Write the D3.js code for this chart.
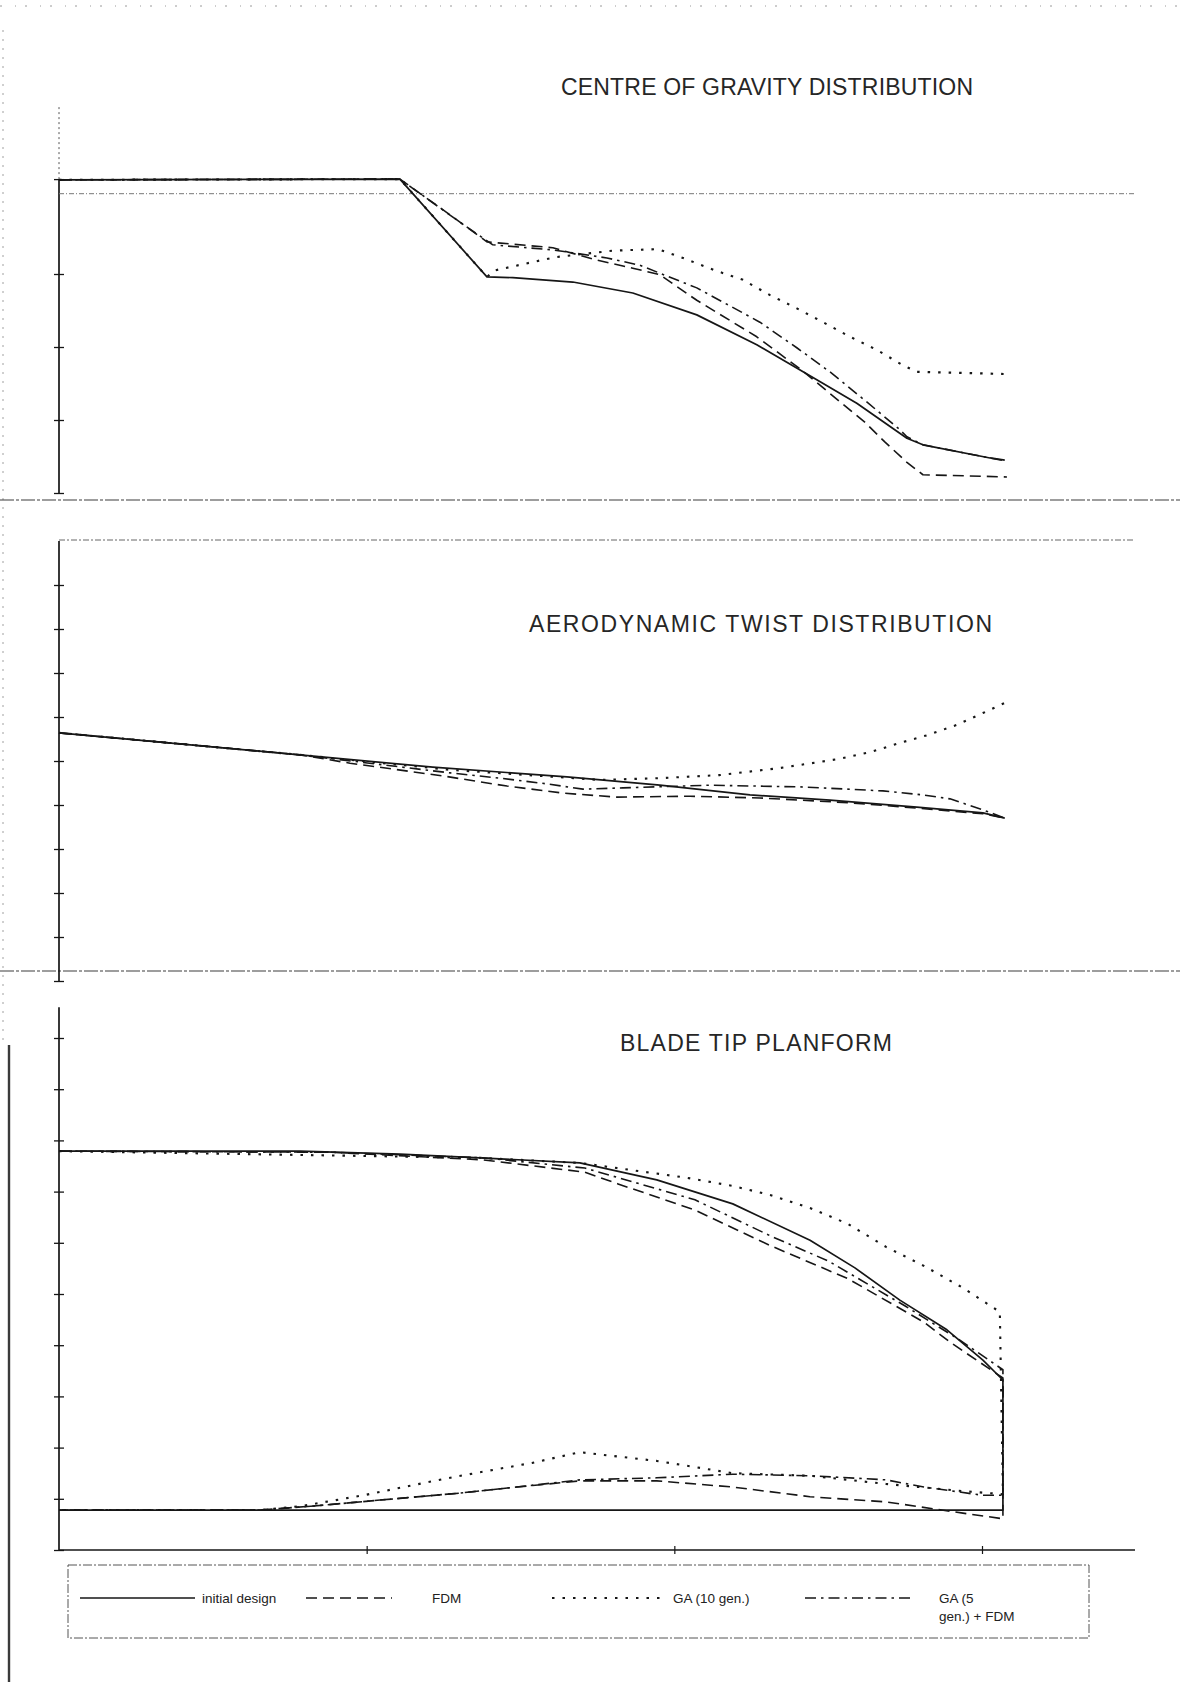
<!DOCTYPE html>
<html>
<head>
<meta charset="utf-8">
<script src="https://cdn.jsdelivr.net/npm/d3@7"></script>
<style>
  body { margin: 0; background: #fff; }
  text { font-family: "Liberation Sans", Arial, sans-serif; }
</style>
</head>
<body>
<script>
// ---- tick values ----
const stationTicks = [1, 2, 3];
const cgTicks = [0, 1, 2, 3, 4.3];
const twistTicks = [0, 1, 2, 3, 4, 5, 6, 7, 8, 9];
const planTicks = [0, 1, 2, 3, 4, 5, 6, 7, 8, 9, 10];

// ---- legend / titles ----
const seriesNames = ["initial design", "FDM", "GA (10 gen.)", "GA (5 gen.) + FDM"];
const panelTitles = ["CENTRE OF GRAVITY DISTRIBUTION", "AERODYNAMIC TWIST DISTRIBUTION", "BLADE TIP PLANFORM"];

// ---- centre of gravity distribution [station, value] ----
const cgInitial = [[0,4.29],[1.108,4.30],[1.391,2.96],[1.475,2.95],[1.670,2.89],[1.865,2.74],[2.073,2.44],[2.268,2.03],[2.463,1.55],[2.593,1.23],[2.756,0.75],[2.808,0.66],[3.026,0.48],[3.074,0.45]];
const cgFDM = [[0,4.29],[1.108,4.30],[1.271,3.81],[1.391,3.44],[1.605,3.36],[1.748,3.19],[1.865,3.08],[1.953,2.99],[2.073,2.64],[2.268,2.14],[2.415,1.68],[2.619,0.97],[2.684,0.70],[2.756,0.42],[2.808,0.25],[3.081,0.22]];
const cgGA10 = [[0,4.29],[1.108,4.30],[1.391,2.96],[1.417,3.05],[1.514,3.14],[1.612,3.23],[1.800,3.32],[1.947,3.34],[2.034,3.21],[2.132,3.05],[2.223,2.92],[2.311,2.71],[2.398,2.53],[2.483,2.34],[2.571,2.14],[2.658,1.96],[2.743,1.75],[2.788,1.66],[3.081,1.63]];
const cgGA5FDM = [[0,4.29],[1.108,4.30],[1.293,3.74],[1.410,3.40],[1.605,3.33],[1.781,3.22],[1.888,3.12],[2.073,2.81],[2.278,2.34],[2.398,1.99],[2.512,1.64],[2.619,1.27],[2.727,0.89],[2.756,0.77],[2.808,0.66],[3.026,0.48],[3.074,0.44]];

// ---- aerodynamic twist distribution ----
const twInitial = [[0,5.64],[0.783,5.14],[1.215,4.86],[1.651,4.64],[1.953,4.45],[2.246,4.23],[2.506,4.11],[2.788,3.95],[3.003,3.82],[3.074,3.70]];
const twFDM = [[0,5.64],[0.783,5.14],[0.946,4.95],[1.248,4.66],[1.456,4.43],[1.638,4.27],[1.813,4.18],[2.051,4.20],[2.278,4.16],[2.571,4.05],[2.788,3.93],[3.003,3.80],[3.074,3.70]];
const twGA10 = [[0,5.64],[0.783,5.14],[1.271,4.80],[1.758,4.57],[1.953,4.61],[2.148,4.68],[2.343,4.84],[2.538,5.05],[2.636,5.20],[2.733,5.41],[2.824,5.59],[2.918,5.82],[3.003,6.09],[3.074,6.32]];
const twGA5FDM = [[0,5.64],[0.783,5.14],[1.271,4.73],[1.433,4.61],[1.586,4.48],[1.703,4.36],[1.833,4.39],[2.116,4.45],[2.418,4.41],[2.678,4.32],[2.808,4.23],[2.896,4.14],[3.003,3.89],[3.074,3.70]];

// ---- blade tip planform: leading edge (upper) and trailing edge (lower) ----
const plInitialUpper = [[0,7.79],[0.783,7.79],[1.108,7.73],[1.368,7.66],[1.693,7.56],[1.943,7.23],[2.190,6.76],[2.441,6.05],[2.587,5.51],[2.733,4.88],[2.886,4.30],[3.003,3.71],[3.068,3.32]];
const plInitialLower = [[0,0.78],[3.068,0.78]];
const plFDMUpper = [[0,7.79],[0.881,7.77],[1.378,7.62],[1.709,7.38],[1.817,7.15],[2.067,6.64],[2.314,5.94],[2.564,5.30],[2.811,4.45],[2.896,4.06],[3.068,3.36]];
const plFDMLower = [[0,0.78],[0.653,0.78],[0.829,0.86],[1.053,0.98],[1.300,1.11],[1.488,1.23],[1.693,1.35],[1.943,1.35],[2.190,1.23],[2.441,1.04],[2.688,0.94],[2.938,0.72],[3.068,0.61]];
const plGA10Upper = [[0,7.79],[1.368,7.66],[1.693,7.56],[2.041,7.27],[2.190,7.11],[2.314,6.93],[2.441,6.68],[2.564,6.37],[2.688,5.92],[2.811,5.55],[2.938,5.12],[3.058,4.65]];
const plGA10Lower = [[0,0.78],[0.653,0.78],[0.790,0.86],[0.991,1.07],[1.137,1.25],[1.287,1.43],[1.388,1.54],[1.537,1.70],[1.693,1.91],[1.943,1.74],[2.190,1.50],[2.441,1.45],[2.688,1.29],[2.938,1.15],[3.068,1.09]];
const plGA5FDMUpper = [[0,7.79],[0.881,7.77],[1.378,7.66],[1.709,7.46],[2.067,6.84],[2.314,6.13],[2.502,5.64],[2.749,4.77],[2.928,4.10],[3.068,3.52]];
const plGA5FDMLower = [[0,0.78],[0.653,0.78],[0.829,0.86],[1.053,0.98],[1.300,1.11],[1.488,1.23],[1.693,1.37],[1.943,1.41],[2.190,1.48],[2.441,1.45],[2.688,1.37],[2.811,1.23],[3.000,1.07],[3.068,1.07]];

// ---- drawing ----
const W = 1180, H = 1682;
const INK = "#161616";
const styles = [
  { dash: null,            width: 1.7 },  // initial design
  { dash: "11,6",          width: 1.6 },  // FDM
  { dash: "2.5,8",         width: 2.1 },  // GA (10 gen.)
  { dash: "11,5,2.5,5",    width: 1.6 }   // GA (5 gen.) + FDM
];

const svg = d3.select("body").append("svg")
  .attr("width", W).attr("height", H)
  .attr("viewBox", `0 0 ${W} ${H}`);

const x = d3.scaleLinear().domain([0, 3]).range([59, 982]);
const y1 = d3.scaleLinear().domain([0, 4]).range([493, 201]);
const y2 = d3.scaleLinear().domain([0, 9]).range([981, 585]);
const y3 = d3.scaleLinear().domain([0, 10]).range([1550, 1038]);

// page frame marks
function rule(x1, yA, x2, yB, stroke, w, dash) {
  svg.append("line").attr("x1", x1).attr("y1", yA).attr("x2", x2).attr("y2", yB)
    .attr("stroke", stroke).attr("stroke-width", w)
    .attr("stroke-dasharray", dash || null);
}
rule(0, 6, 1180, 6, "#9a9a9a", 1, "2,13,1,9");
rule(3, 30, 3, 1040, "#a0a0a0", 1, "2,7");
rule(9, 1045, 9, H, "#3a3a3a", 2.4);
rule(0, 500, 1180, 500, "#3c3c3c", 1.2, "14,2,3,2");
rule(0, 971, 1180, 971, "#3c3c3c", 1.2, "14,2,3,2");

// vertical axis with cross ticks
function vAxis(yScale, ticks, top, solidTop) {
  const g = svg.append("g").attr("transform", `translate(${x(0)},0)`);
  g.call(d3.axisLeft(yScale).tickValues(ticks).tickSize(0).tickFormat(""));
  g.select(".domain").remove();
  g.selectAll(".tick line").attr("x1", -5).attr("x2", 5)
    .attr("stroke", INK).attr("stroke-width", 1.3);
  g.append("line").attr("x1", 0).attr("x2", 0)
    .attr("y1", yScale(0)).attr("y2", yScale(solidTop))
    .attr("stroke", INK).attr("stroke-width", 1.7);
  if (top > solidTop) {
    g.append("line").attr("x1", 0).attr("x2", 0)
      .attr("y1", yScale(solidTop)).attr("y2", yScale(top))
      .attr("stroke", "#555").attr("stroke-width", 1).attr("stroke-dasharray", "2,3");
  }
}

function title(txt, x0, x1, baseline) {
  svg.append("text").attr("x", x0).attr("y", baseline)
    .attr("font-size", 23).attr("fill", "#262626")
    .attr("textLength", x1 - x0).attr("lengthAdjust", "spacing")
    .text(txt);
}

function series(yScale, data, s) {
  const line = d3.line().x(d => x(d[0])).y(d => yScale(d[1]));
  svg.append("path").datum(data).attr("d", line)
    .attr("fill", "none").attr("stroke", INK)
    .attr("stroke-width", styles[s].width)
    .attr("stroke-dasharray", styles[s].dash)
    .attr("stroke-linejoin", "round");
}

// Panel 1: centre of gravity
title(panelTitles[0], 561, 973, 95);
vAxis(y1, cgTicks, 5.29, 4.3);
rule(x(0), y1(4.1), 1135, y1(4.1), "#777", 1, "5,2,1,2");
[cgGA10, cgGA5FDM, cgFDM, cgInitial].forEach((d, i) => series(y1, d, [2, 3, 1, 0][i]));

// Panel 2: aerodynamic twist
rule(x(0), 540, 1135, 540, "#666", 1, "6,2,2,2");
title(panelTitles[1], 529, 992, 632);
vAxis(y2, twistTicks, 10.0, 10.0);
[twGA10, twGA5FDM, twFDM, twInitial].forEach((d, i) => series(y2, d, [2, 3, 1, 0][i]));

// Panel 3: blade tip planform (outline = leading edge, tip, trailing edge)
title(panelTitles[2], 620, 892, 1051);
vAxis(y3, planTicks, 10.6, 10.6);
const outline = (u, l) => u.concat(l.slice().reverse());
series(y3, outline(plGA10Upper, plGA10Lower), 2);
series(y3, outline(plGA5FDMUpper, plGA5FDMLower), 3);
series(y3, outline(plFDMUpper, plFDMLower), 1);
series(y3, outline(plInitialUpper, plInitialLower), 0);

// bottom station axis
const gx = svg.append("g").attr("transform", `translate(0,${y3(0)})`);
gx.call(d3.axisBottom(x).tickValues(stationTicks).tickSize(0).tickFormat(""));
gx.select(".domain").remove();
gx.selectAll(".tick line").attr("y1", -4).attr("y2", 4).attr("stroke", INK).attr("stroke-width", 1.2);
gx.append("line").attr("x1", x(0)).attr("x2", 1135).attr("y1", 0).attr("y2", 0)
  .attr("stroke", INK).attr("stroke-width", 1.3);

// legend
const lg = svg.append("g");
lg.append("rect").attr("x", 68).attr("y", 1565).attr("width", 1021).attr("height", 73)
  .attr("fill", "none").attr("stroke", "#555").attr("stroke-width", 1).attr("stroke-dasharray", "9,2,2,2");
const legendItems = [
  { s: 0, x0: 80,  x1: 195, tx: 202 },
  { s: 1, x0: 306, x1: 392, tx: 432 },
  { s: 2, x0: 552, x1: 665, tx: 673 },
  { s: 3, x0: 805, x1: 912, tx: 939 }
];
legendItems.forEach(it => {
  lg.append("line").attr("x1", it.x0).attr("x2", it.x1).attr("y1", 1598).attr("y2", 1598)
    .attr("stroke", INK).attr("stroke-width", styles[it.s].width)
    .attr("stroke-dasharray", styles[it.s].dash);
});
legendItems.slice(0, 3).forEach(it => {
  lg.append("text").attr("x", it.tx).attr("y", 1603).attr("font-size", 13.5)
    .attr("fill", "#222").text(seriesNames[it.s]);
});
const last = lg.append("text").attr("x", 939).attr("y", 1603).attr("font-size", 13.5).attr("fill", "#222");
last.append("tspan").attr("x", 939).text("GA (5");
last.append("tspan").attr("x", 939).attr("dy", 18).text("gen.) + FDM");
</script>
</body>
</html>
